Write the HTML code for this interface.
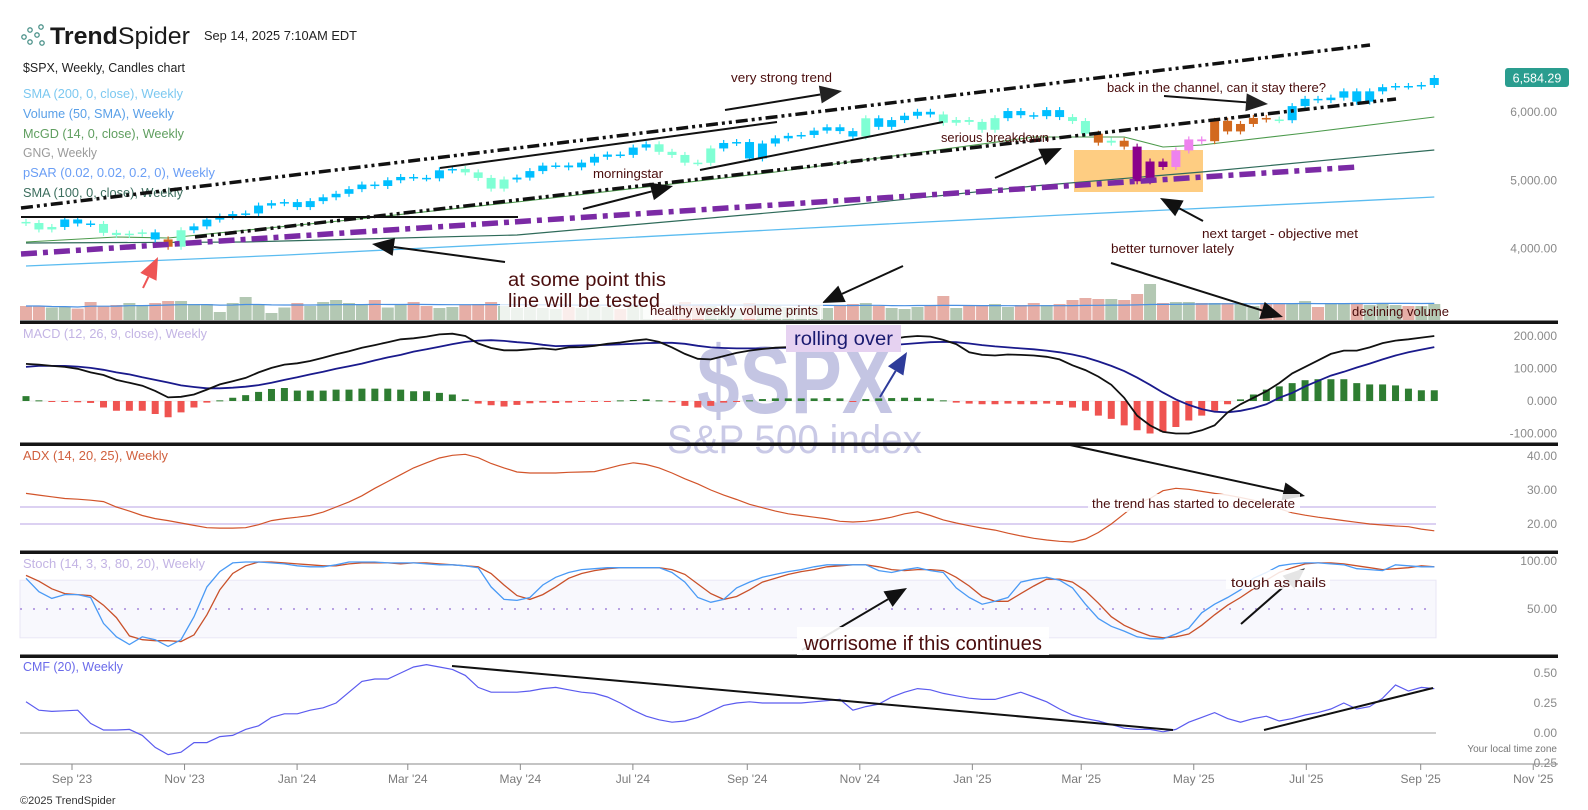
<!DOCTYPE html>
<html><head><meta charset="utf-8"><title>$SPX Weekly - TrendSpider</title>
<style>
html,body{margin:0;padding:0;background:#fff;}
svg{display:block;font-family:"Liberation Sans",Arial,sans-serif;}
</style></head>
<body>
<svg id="chart" xmlns="http://www.w3.org/2000/svg" width="1588" height="810" viewBox="0 0 1588 810">
<rect x="0" y="0" width="1588" height="810" fill="#ffffff"/>
<!-- header -->
<g fill="none" stroke="#4f948c" stroke-width="1.3">
<circle cx="24" cy="37" r="2.2"/><circle cx="30" cy="30" r="2.2"/><circle cx="30" cy="42" r="2.2"/><circle cx="37" cy="35" r="2.2"/><circle cx="41" cy="27" r="2.2"/><circle cx="42" cy="43" r="2.2"/>
</g>
<text x="50" y="44" font-size="24" fill="#1a1a1a" textLength="140" lengthAdjust="spacingAndGlyphs"><tspan font-weight="bold">Trend</tspan><tspan>Spider</tspan></text>
<text x="204" y="40" font-size="13" fill="#222" textLength="153" lengthAdjust="spacingAndGlyphs">Sep 14, 2025 7:10AM EDT</text>
<!-- legend -->
<text x="23" y="72" font-size="13" fill="#222" textLength="162" lengthAdjust="spacingAndGlyphs">$SPX, Weekly, Candles chart</text>
<text x="23" y="98" font-size="12.5" fill="#7cc8f0" textLength="160" lengthAdjust="spacingAndGlyphs">SMA (200, 0, close), Weekly</text>
<text x="23" y="118" font-size="12.5" fill="#5aa0e8" textLength="151" lengthAdjust="spacingAndGlyphs">Volume (50, SMA), Weekly</text>
<text x="23" y="138" font-size="12.5" fill="#5f9e5f" textLength="161" lengthAdjust="spacingAndGlyphs">McGD (14, 0, close), Weekly</text>
<text x="23" y="157" font-size="12.5" fill="#9a9a9a" textLength="74" lengthAdjust="spacingAndGlyphs">GNG, Weekly</text>
<text x="23" y="177" font-size="12.5" fill="#6a9ef5" textLength="192" lengthAdjust="spacingAndGlyphs">pSAR (0.02, 0.02, 0.2, 0), Weekly</text>
<text x="23" y="197" font-size="12.5" fill="#3c6e5e" textLength="160" lengthAdjust="spacingAndGlyphs">SMA (100, 0, close), Weekly</text>

<g id="g-bg"></g>
<!-- watermark -->
<text x="697" y="413" font-size="96" font-weight="bold" fill="#c4c5e3" textLength="196" lengthAdjust="spacingAndGlyphs">$SPX</text>
<text x="667" y="453" font-size="40" fill="#c9c9e6" textLength="255" lengthAdjust="spacingAndGlyphs">S&amp;P 500 index</text>
<g id="g-marks"></g>
<g id="g-axes"></g>
<g id="g-notes"></g>
</svg>
<script>
// ---------- DATA ----------
const closes=[4464,4370,4406,4516,4457,4450,4320,4288,4308,4327,
4224,4117,4358,4415,4514,4559,4595,4604,4719,4754,
4770,4697,4784,4840,4891,4959,5026,5005,5089,5137,
5124,5117,5234,5254,5204,5123,4967,5100,5128,5223,
5303,5305,5278,5347,5432,5465,5460,5567,5615,5505,
5459,5346,5344,5554,5634,5648,5408,5626,5702,5738,
5751,5815,5864,5808,5729,5995,5870,5969,6032,6090,
6051,5930,5970,5942,5827,5997,6101,6040,6026,6115,
6013,5955,5770,5639,5667,5581,5074,5363,5283,5525,
5686,5660,5958,5803,5912,6000,5977,5967,6173,6279,
6260,6297,6389,6238,6389,6450,6467,6460,6482,6584];
const firstOpen=4480;
const gngState=["M","M","M","B","B","B","M","M","M","M",
"B","O","M","B","B","B","B","B","B","B",
"B","B","B","B","B","B","B","B","B","B",
"B","B","B","B","M","M","M","M","B","B",
"B","B","B","B","B","B","B","B","B","M",
"M","M","M","M","B","B","B","B","B","B",
"B","B","B","B","B","M","B","B","B","B",
"B","M","M","M","M","M","B","B","B","B",
"B","M","M","O","M","O","P","P","P","V",
"V","V","O","O","O","O","O","M","B","B",
"B","B","B","B","B","B","B","B","B","B"];
const volumes=[14,14,12.5,13,11.4,18,13.6,15,17,15,
17,19,19,16,16,8,17,23,16,7,
12.5,17,14,18,20,17,16,20,12.5,16,
18,14,12,13,15,16,18,14,12,13,
12,11,13,12,14,13,11,14,15,17,
16,18,15,14,12,11,17,16,15,13,
12,14,12,15,16,17,14,12,11,13,
14,24,12,14,15,16,13,15,17,15,
16,20,22,21,21,20,26,36,17,18,
18,17,17,17,17,14,17,17,16,19,
13,16,16,17,15,17,15,14,14,16];
const sma200Weeks=[0,20,40,60,80,100,109];
const sma200Vals=[3835,3995,4185,4385,4580,4760,4844];
const sma100Weeks=[0,17,38,60,78,91,109];
const sma100Vals=[4172,4186,4289,4654,5005,5210,5531];
const mcgdWeeks=[0,7,11,25,38,58,78,85,88,91,99,109];
const mcgdVals=[4186,4259,4245,4508,4771,5210,5721,5721,5575,5604,5780,6014];
const macdLine=[114,112,108,105,99,88,80,65,56,47,
31,11,13,20,35,51,61,71,88,102,
112,116,123,133,144,153,164,172,181,190,
193,198,205,207,200,177,163,156,156,159,
162,158,165,166,170,176,180,186,190,182,
165,145,130,128,138,148,155,160,164,166,
167,168,170,168,166,176,182,190,197,200,
198,188,175,150,142,140,143,142,140,136,
128,110,95,75,50,10,-45,-75,-95,-100,
-100,-90,-75,-35,-10,10,30,55,85,105,
125,145,155,155,165,178,186,190,195,200];
const signalLine=[105,108,108,108,106,102,96,88,82,73,
65,57,48,43,39,39,41,44,49,56,
65,73,82,90,99,107,115,125,134,142,
152,159,167,175,182,186,187,185,181,178,
173,169,170,171,172,173,174,176,178,179,
179,176,170,165,163,162,162,162,163,164,
165,166,167,167,167,168,170,172,175,178,
181,182,181,177,172,168,165,162,159,155,
150,143,134,122,108,92,72,50,26,5,
-12,-25,-33,-35,-30,-22,-10,10,25,45,
62,78,90,103,115,128,140,150,158,166];
const macdHist=[15,2,-3,-2,-4,-6,-20,-30,-30,-30,
-40,-50,-35,-20,-5,2,10,18,28,37,
40,32,32,32,35,35,38,38,38,35,
30,30,25,20,5,-8,-13,-17,-12,-7,
-5,-6,-5,-3,-2,-2,2,3,5,2,
-4,-15,-20,-15,-5,-2,2,6,8,8,
8,8,9,8,-2,6,8,9,10,10,
8,2,-5,-8,-10,-10,-8,-10,-10,-8,
-12,-20,-30,-45,-55,-75,-90,-100,-95,-80,
-60,-45,-30,-10,5,20,35,45,55,64,
67,67,67,55,51,51,48,38,33,33];
const adxVals=[29,28.5,28,27.5,27.3,27,26.6,25,23.8,22.5,
21.6,21,20.3,19.6,18.9,18.8,18.8,18.9,19.8,21,
21.6,22,22.5,23.5,25,26.5,28.3,30.5,32.5,34.5,
36.5,38,39.4,40.2,40.5,39.5,37.8,36.5,35.3,35,
35,35,35.2,35.3,35.4,36.3,37.3,38,37.5,36.5,
35,33.3,31.8,30,28.5,27.2,25.8,24.8,23.8,23,
22.5,22,21.5,20.8,20.6,20.8,21.3,22,23,23.6,
22.5,21.2,20.3,19.5,18.8,18.2,17.3,16.5,15.8,15.3,
14.9,14.7,15.6,17.5,20,23,26,27.5,29.8,30.5,
30.2,29.6,29,28.5,27.8,27,25.8,24.5,23.3,22.6,
22,21.5,21,20.5,20,19.7,19.4,19.2,18.5,18];
const stochK=[82,68,61,65,65,62,35,21,13,21,
18,11,18,42,73,89,98,99,99,98,
97,95,94,94,96,99,99,99,98,98,
98,97,96,96,95,93,73,60,59,62,
75,83,88,91,92,93,93,93,93,93,
88,78,62,57,60,72,78,83,86,89,
91,94,96,96,96,96,90,88,91,93,
90,88,72,62,55,58,62,78,81,83,
80,72,55,40,32,27,21,19,19,24,
30,46,55,62,70,82,88,95,97,98,
98,97,96,92,91,90,96,95,94,94];
const stochD=[85,79,71,66,65,64,54,41,22,18,
17,17,16,23,44,70,87,95,99,99,
98,97,96,95,95,97,98,98,98,97,
98,98,97,96,95,94,87,75,64,60,
65,73,82,87,90,92,93,93,93,93,
91,86,76,66,60,63,70,78,82,86,
89,91,94,95,96,96,94,91,90,91,
91,90,83,74,63,58,58,66,74,81,
81,78,69,56,42,33,27,22,20,21,
24,33,44,54,62,71,80,88,93,97,
98,98,97,95,93,91,92,93,95,94];
const cmfVals=[0.26,0.19,0.18,0.185,0.19,0.08,0.025,0.025,0.03,-0.02,
-0.12,-0.18,-0.16,-0.08,-0.08,-0.03,-0.02,0.03,0.06,0.13,
0.16,0.16,0.19,0.21,0.25,0.34,0.43,0.45,0.45,0.5,
0.55,0.57,0.55,0.53,0.48,0.38,0.34,0.34,0.34,0.35,
0.37,0.38,0.36,0.34,0.33,0.3,0.25,0.19,0.14,0.11,
0.09,0.1,0.13,0.18,0.23,0.25,0.26,0.25,0.25,0.25,
0.25,0.26,0.27,0.28,0.19,0.22,0.24,0.3,0.34,0.37,
0.36,0.33,0.31,0.29,0.28,0.28,0.31,0.34,0.3,0.26,
0.2,0.15,0.12,0.1,0.07,0.04,0.03,0.03,0.01,0.03,
0.09,0.13,0.17,0.12,0.09,0.12,0.14,0.1,0.12,0.15,
0.17,0.2,0.25,0.2,0.22,0.29,0.4,0.35,0.38,0.37];
const priceTicks=[6000,5000,4000];
const macdTicks=[200,100,0,-100];
const adxTicks=[40,30,20];
const stochTicks=[100,50];
const cmfTicks=[0.5,0.25,0,-0.25];
const monthLabels=["Sep '23","Nov '23","Jan '24","Mar '24","May '24","Jul '24","Sep '24","Nov '24","Jan '25","Mar '25","May '25","Jul '25","Sep '25","Nov '25"];
const monthDates=["2023-09-01","2023-11-01","2024-01-01","2024-03-01","2024-05-01","2024-07-01","2024-09-01","2024-11-01","2025-01-01","2025-03-01","2025-05-01","2025-07-01","2025-09-01","2025-11-01"];

// ---------- SCALES ----------
const X=i=>26+12.92*i;
const yP=p=>78+(6584-p)*0.0684;
const yM=v=>401-v*0.325;
const yA=v=>456+(40-v)*3.4;
const yS=v=>561+(100-v)*0.96;
const yC=v=>733-v*120;
const xDate=s=>72+(Date.parse(s)-Date.parse("2023-09-01"))/86400000*1.845;
const PL=20, PR=1436, AX=1558;

const NS="http://www.w3.org/2000/svg";
const gBg=document.getElementById("g-bg");
const gM=document.getElementById("g-marks");
const gAx=document.getElementById("g-axes");
const gN=document.getElementById("g-notes");
function mk(tag,attrs,parent){const e=document.createElementNS(NS,tag);for(const k in attrs)e.setAttribute(k,attrs[k]);parent.appendChild(e);return e;}
function pts(arr,yf){return arr.map((v,i)=>X(i).toFixed(1)+","+yf(v).toFixed(1)).join(" ");}
function ptsW(weeks,vals,yf){return weeks.map((w,k)=>X(w).toFixed(1)+","+yf(vals[k]).toFixed(1)).join(" ");}

// ---------- PANEL BACKGROUNDS ----------
let el;
el=mk("rect",{x:PL,y:yS(80),width:PR-PL,height:yS(20)-yS(80),fill:"#f8f8fd",stroke:"#e9e6f5","stroke-width":1},gBg);


el=mk("line",{x1:PL,x2:PR,y1:yS(50),y2:yS(50),stroke:"#b9a3e3","stroke-width":2,"stroke-dasharray":"2,11"},gBg);


[25,20].forEach(v=>{
 el=mk("line",{x1:PL,x2:PR,y1:yA(v),y2:yA(v),stroke:"#dcd1f2","stroke-width":2},gBg);
 
 
});
el=mk("line",{x1:PL,x2:PR,y1:yC(0),y2:yC(0),stroke:"#cfcfcf","stroke-width":2},gBg);


el=mk("line",{x1:PL,x2:PR,y1:yM(0),y2:yM(0),stroke:"#eeeeee","stroke-width":1},gBg);


el=mk("rect",{x:1074,y:150,width:129,height:42,fill:"#fecd82"},gBg);



// ---------- PRICE PANEL ----------
el=mk("polyline",{points:ptsW(sma200Weeks,sma200Vals,yP),fill:"none",stroke:"#5bbcf0","stroke-width":1.3},gM);


el=mk("polyline",{points:ptsW(sma100Weeks,sma100Vals,yP),fill:"none",stroke:"#2f6b5a","stroke-width":1.2},gM);


el=mk("polyline",{points:ptsW(mcgdWeeks,mcgdVals,yP),fill:"none",stroke:"#4c9a4c","stroke-width":1.1},gM);



const gngColor={B:"#00bfff",M:"#7fffd4",O:"#d2691e",P:"#8b008b",V:"#ee82ee"};
closes.forEach((c,i)=>{
 const o=i?closes[i-1]:firstOpen;
 const col=gngColor[gngState[i]];
 const top=yP(Math.max(o,c)), bot=yP(Math.min(o,c));
 el=mk("line",{x1:X(i),x2:X(i),y1:top-3,y2:bot+3,stroke:col,"stroke-width":1.2},gM);
 
 
 el=mk("rect",{x:X(i)-4.5,y:top,width:9,height:Math.max(1.5,bot-top),fill:col},gM);
 
 
});

// volume
const VB=320;
volumes.forEach((v,i)=>{
 const o=i?closes[i-1]:firstOpen;
 const up=closes[i]>=o;
 el=mk("rect",{x:X(i)-6,y:VB-v,width:12,height:v,fill:up?"#b3c8b3":"#e6aea6"},gM);
 
 
});
const volSma=volumes.map((v,i)=>{const s=volumes.slice(Math.max(0,i-49),i+1);return s.reduce((a,b)=>a+b,0)/s.length;});
el=mk("polyline",{points:pts(volSma,v=>VB-v),fill:"none",stroke:"#4a90e2","stroke-width":1.2},gM);



// ---------- MACD ----------
macdHist.forEach((v,i)=>{
 el=mk("rect",{x:X(i)-3.5,y:Math.min(yM(v),yM(0)),width:7,height:Math.max(1,Math.abs(yM(v)-yM(0))),fill:v>=0?"#2e7d32":"#ef5350"},gM);
 
 
});
el=mk("polyline",{points:pts(signalLine,yM),fill:"none",stroke:"#1a1a8c","stroke-width":1.8},gM);


el=mk("polyline",{points:pts(macdLine,yM),fill:"none",stroke:"#111","stroke-width":1.8},gM);



// ---------- ADX ----------
el=mk("polyline",{points:pts(adxVals,yA),fill:"none",stroke:"#d2542a","stroke-width":1.2},gM);



// ---------- STOCH ----------
el=mk("polyline",{points:pts(stochD,yS),fill:"none",stroke:"#c9512a","stroke-width":1.3},gM);


el=mk("polyline",{points:pts(stochK,yS),fill:"none",stroke:"#4a9af5","stroke-width":1.3},gM);



// ---------- CMF ----------
el=mk("polyline",{points:pts(cmfVals,yC),fill:"none",stroke:"#5b5bef","stroke-width":1.2},gM);



// ---------- AXES ----------
[322,444,552,656].forEach((y,k)=>{
 el=mk("rect",{x:PL,y:y-1.5,width:AX-PL,height:3.5,fill:"#151515"},gAx);
 
 
});
el=mk("line",{x1:PL,x2:AX,y1:764,y2:764,stroke:"#8a8a8a","stroke-width":1},gAx);


monthLabels.forEach((lab,k)=>{
 const x=xDate(monthDates[k]);
 el=mk("line",{x1:x,x2:x,y1:764,y2:770,stroke:"#8a8a8a","stroke-width":1},gAx);
 
 
 el=mk("text",{x:x,y:783,"font-size":12,fill:"#7a7a7a","text-anchor":"middle"},gAx);
 el.textContent=lab;
 
 
});
function yLabels(ticks,yf,fmt,name,dy){
 ticks.forEach(v=>{
  el=mk("text",{x:1557,y:yf(v)+dy,"font-size":12,fill:"#8a8a8a","text-anchor":"end"},gAx);
  el.textContent=fmt(v);
  
  
 });
}
yLabels(priceTicks,yP,v=>v.toLocaleString("en-US",{minimumFractionDigits:2}),'price-axis-label',-2);
yLabels(macdTicks,yM,v=>v.toFixed(3),'macd-axis-label',4);
yLabels(adxTicks,yA,v=>v.toFixed(2),'adx-axis-label',4);
yLabels(stochTicks,yS,v=>v.toFixed(2),'stoch-axis-label',4);
yLabels(cmfTicks,yC,v=>v.toFixed(2),'cmf-axis-label',4);

// last price tag
const last=closes[closes.length-1];
el=mk("rect",{x:1505,y:yP(last)-10,width:64,height:19,rx:3,fill:"#2a9d8f"},gAx);


el=mk("text",{x:1537,y:yP(last)+4.5,"font-size":12.5,fill:"#fff","text-anchor":"middle"},gAx);
el.textContent=last.toLocaleString("en-US",{minimumFractionDigits:2,maximumFractionDigits:2}).replace(".00",".29");



function panelLabel(txt,x,y,col,name,tl){
 el=mk("text",{x:x,y:y,"font-size":12.5,fill:col,textLength:tl,lengthAdjust:"spacingAndGlyphs"},gAx);
 el.textContent=txt;
 
 
}
panelLabel("MACD (12, 26, 9, close), Weekly",23,338,"#c3b4e4","macd-title",184);
panelLabel("ADX (14, 20, 25), Weekly",23,460,"#d0603e","adx-title",145);
panelLabel("Stoch (14, 3, 3, 80, 20), Weekly",23,568,"#c3b4e4","stoch-title",182);
panelLabel("CMF (20), Weekly",23,671,"#6a6aea","cmf-title",100);
el=mk("text",{x:1557,y:752,"font-size":10,fill:"#777","text-anchor":"end"},gAx);
el.textContent="Your local time zone";


el=mk("text",{x:20,y:804,"font-size":11,fill:"#333"},gAx);
el.textContent="©2025 TrendSpider";



// ---------- ANNOTATIONS ----------
function tline(x1,y1,x2,y2,w,dash,col,name){
 el=mk("line",{x1:x1,y1:y1,x2:x2,y2:y2,stroke:col,"stroke-width":w,"stroke-dasharray":dash||"none"},gN);
 
 
}
tline(21,208,1370,45,3.5,"12,4,3,4,3,4","#111","upper-channel-line");
tline(195,237,1396,99,3.5,"12,4,3,4,3,4","#111","lower-channel-line");
tline(21,217,518,217,2,null,"#111","support-line");
tline(440,168,777,122,2,null,"#111","trend-line-1");
tline(700,170,943,122,2,null,"#111","trend-line-2");
tline(21,254,1357,167,5.5,"16,6,5,6","#7b2aa5","long-term-trendline");
tline(452,666,1173,730,2,null,"#111","cmf-down-trendline");
tline(1264,730,1433,688,2,null,"#111","cmf-up-trendline");

function arrow(x1,y1,x2,y2,col,head,name){
 const dx=x2-x1, dy=y2-y1, L=Math.hypot(dx,dy), ux=dx/L, uy=dy/L;
 const bx=x2-ux*22, by=y2-uy*22;
 el=mk("line",{x1:x1,y1:y1,x2:bx,y2:by,stroke:col,"stroke-width":2},gN);
 
 
 el=mk("polygon",{points:`${x2},${y2} ${bx-uy*9},${by+ux*9} ${bx+uy*9},${by-ux*9}`,fill:head},gN);
 
 
}
arrow(725,110,842,91,"#111","#222","arrow-very-strong-trend");
arrow(1164,96,1268,104,"#111","#222","arrow-back-in-channel");
arrow(995,178,1062,148,"#111","#111","arrow-serious-breakdown");
arrow(583,209,673,186,"#111","#111","arrow-morningstar");
arrow(1203,221,1160,198,"#111","#111","arrow-next-target");
arrow(1111,263,1283,317,"#111","#111","arrow-better-turnover");
arrow(505,262,372,244,"#111","#111","arrow-line-tested");
arrow(903,266,822,303,"#111","#111","arrow-healthy-volume");
arrow(143,288,158,257,"#ee5555","#ee5555","arrow-october-low");
arrow(880,397,907,352,"#2d3b9a","#2d3b9a","arrow-rolling-over");
arrow(1070,445,1305,496,"#111","#111","arrow-decelerate");
arrow(1241,624,1305,568,"#111","#555","arrow-tough-as-nails");
arrow(802,650,907,588,"#111","#111","arrow-worrisome");

function box(x,y,w,h,fill,name){
 el=mk("rect",{x:x,y:y,width:w,height:h,fill:fill},gN);
 
 
}
function note(txt,x,y,size,col,tl,name){
 el=mk("text",{x:x,y:y,"font-size":size,fill:col,textLength:tl,lengthAdjust:"spacingAndGlyphs"},gN);
 el.textContent=txt;
 
 
}
const NC="#4a0d0d";
box(500,264,172,56,"rgba(255,255,255,0.78)","note-box-line-tested");
box(643,300,180,19,"rgba(255,255,255,0.78)","note-box-healthy");
box(786,325,115,27,"#e6d2f1","note-box-rolling-over");
box(1088,494,212,18,"rgba(255,255,255,0.85)","note-box-decelerate");
box(1226,570,104,19,"rgba(255,255,255,0.85)","note-box-tough");
box(797,627,252,28,"rgba(255,255,255,0.9)","note-box-worrisome");
note("very strong trend",731,82,13,NC,101,"note-very-strong-trend");
note("back in the channel, can it stay there?",1107,92,13,NC,219,"note-back-in-channel");
note("serious breakdown",941,142,13,NC,108,"note-serious-breakdown");
note("morningstar",593,178,13,NC,70,"note-morningstar");
note("next target - objective met",1202,238,13,NC,156,"note-next-target");
note("better turnover lately",1111,253,13,NC,123,"note-better-turnover");
note("at some point this",508,286,19,NC,158,"note-line-tested-1");
note("line will be tested",508,307,19,NC,152,"note-line-tested-2");
note("healthy weekly volume prints",650,315,13,NC,168,"note-healthy-volume");
note("declining volume",1352,316,13,NC,97,"note-declining-volume");
note("rolling over",794,345,19,"#1a1a70",99,"note-rolling-over");
note("the trend has started to decelerate",1092,508,13,NC,203,"note-decelerate");
note("tough as nails",1231,587,13,NC,95,"note-tough-as-nails");
note("worrisome if this continues",804,650,20,NC,238,"note-worrisome");
</script>
</body></html>
